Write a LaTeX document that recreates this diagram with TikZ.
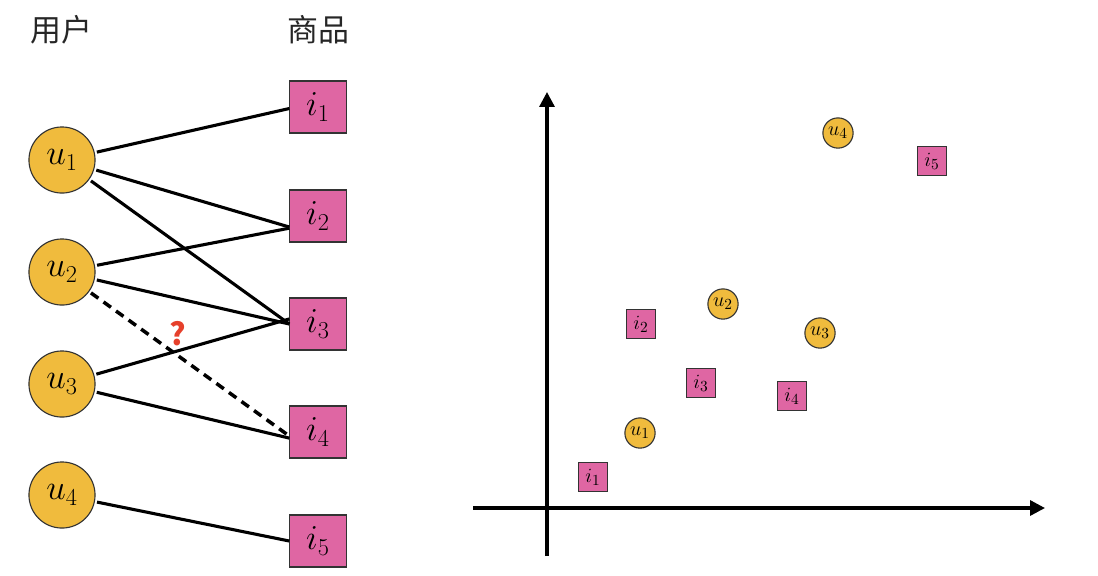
\documentclass[tikz,border=0pt]{standalone}
\usepackage{fontspec}
\usepackage{tikz}
\usetikzlibrary{positioning, arrows.meta}
\newfontfamily\cjk{Noto Sans CJK SC}
\definecolor{userfill}{HTML}{F0BB3D}
\definecolor{itemfill}{HTML}{DF66A3}
\definecolor{qred}{HTML}{E6402B}
\tikzset{user/.style = {circle,draw=black!80,fill=userfill,line width=0.8pt,minimum size=47pt,inner sep=0pt,font=\fontsize{27}{30}\selectfont},
         item/.style = {rectangle,draw=black!80,fill=itemfill,line width=0.8pt,minimum width=40pt,minimum height=37pt,inner sep=0pt,font=\fontsize{27}{30}\selectfont},
         smalluser/.style = {user,minimum size=21.5pt,font=\fontsize{15}{17}\selectfont},
         smallitem/.style = {item,minimum width=21pt,minimum height=20.5pt,font=\fontsize{15}{17}\selectfont},
         edge/.style = {line width=2.2pt,shorten <=1.5pt},
         axis/.style = {line width=2.3pt,-{Triangle[length=10.5pt,width=10.5pt]}}}

\begin{document}
\begin{tikzpicture}[x=0.025cm, y=-0.025cm]
            \useasboundingbox (0,0) rectangle (1098,575);

            \node[font=\cjk\fontsize{22}{24}\selectfont, text=black!85] (users) at (61,30) {用户};
            \node[font=\cjk\fontsize{22}{24}\selectfont, text=black!85] (items) at (318,30) {商品};

            \node[user] (u1) at (62,160) {$u_1$};
            \node[user] (u2) at (62,272) {$u_2$};
            \node[user] (u3) at (62,384) {$u_3$};
            \node[user] (u4) at (62,495) {$u_4$};

            \node[item] (i1) at (318,107) {$i_1$};
            \node[item] (i2) at (318,216) {$i_2$};
            \node[item] (i3) at (318,324) {$i_3$};
            \node[item] (i4) at (318,432) {$i_4$};
            \node[item] (i5) at (318,541) {$i_5$};

            \draw[edge] (u1) -- (i1.183);
            \draw[edge] (u1) -- (i2.201);
            \draw[edge] (u1) -- (i3.180);
            \draw[edge] (u2) -- (i2.203);
            \draw[edge] (u2) -- (i3.180);
            \draw[edge] (u3) -- (i3.170);
            \draw[edge] (u3) -- (i4.192);
            \draw[edge] (u4) -- (i5.180);
            \draw[edge, line width=2.5pt, dash pattern=on 6.5pt off 4.5pt] (u2) -- (i4.188);

            \node[font=\cjk\bfseries\fontsize{22}{26}\selectfont, text=qred] (q) at (178,334) {?};

            % embedding space
            \coordinate (xs) at (473,508);
            \coordinate (xe) at (1045,508);
            \coordinate (ys) at (547,556);
            \coordinate (ye) at (547,92);
            \draw[axis] (xs) -- (xe);
            \draw[axis] (ys) -- (ye);

            \node[smallitem] (pi1) at (593,477) {$i_1$};
            \node[smalluser] (pu1) at (640,433) {$u_1$};
            \node[smallitem] (pi2) at (641,324) {$i_2$};
            \node[smalluser] (pu2) at (723,304) {$u_2$};
            \node[smallitem] (pi3) at (701,383) {$i_3$};
            \node[smalluser] (pu3) at (820,333) {$u_3$};
            \node[smallitem] (pi4) at (792,396) {$i_4$};
            \node[smalluser] (pu4) at (838,133) {$u_4$};
            \node[smallitem] (pi5) at (932,161) {$i_5$};
        \end{tikzpicture}
\end{document}
